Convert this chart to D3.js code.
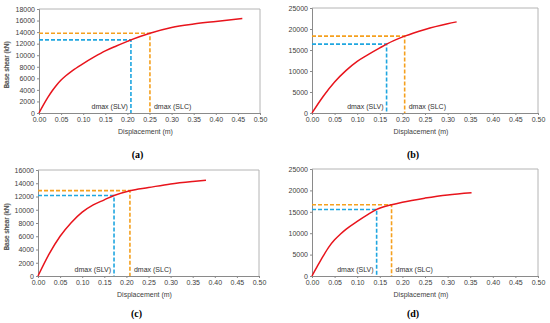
<!DOCTYPE html>
<html lang="en">
<head>
<meta charset="utf-8">
<title>Pushover curves</title>
<script src="https://d3js.org/d3.v7.min.js"></script>
<style>
  body { margin: 0; background: #fff; }
  text { font-family: "Liberation Sans", Arial, sans-serif; }
</style>
</head>
<body>
<script>

// data

const panelNames = ["(a)", "(b)", "(c)", "(d)"];

const curveA = [[0,0],[0.01,1400],[0.02,2700],[0.03,3850],[0.04,4850],[0.05,5700],[0.06,6400],
  [0.075,7300],[0.10,8550],[0.125,9700],[0.15,10750],[0.175,11600],[0.20,12400],[0.208,12650],
  [0.251,13800],[0.30,14800],[0.35,15400],[0.40,15850],[0.46,16350]];
const curveB = [[0,0],[0.025,4000],[0.05,7400],[0.075,10100],[0.10,12300],[0.125,13950],
  [0.15,15500],[0.165,16400],[0.205,18300],[0.25,19900],[0.30,21250],[0.32,21700]];
const curveC = [[0,0],[0.025,3300],[0.05,6000],[0.075,8050],[0.10,9650],[0.125,10750],
  [0.15,11500],[0.172,12150],[0.208,12880],[0.25,13350],[0.30,13900],[0.35,14270],[0.38,14450]];
const curveD = [[0,0],[0.0125,2400],[0.025,4700],[0.0375,6800],[0.05,8450],[0.0625,9750],
  [0.075,10900],[0.10,12750],[0.125,14450],[0.143,15550],[0.176,16650],[0.20,17250],[0.25,18200],
  [0.30,18950],[0.353,19450]];

// [displacement, base shear] at dmax(SLV) and dmax(SLC)
const slvPoints = [[0.208, 12650], [0.165, 16400], [0.172, 12150], [0.143, 15550]];
const slcPoints = [[0.251, 13800], [0.205, 18300], [0.208, 12880], [0.176, 16650]];

const yMaxes = [18000, 25000, 16000, 25000];
const ySteps = [2000, 5000, 2000, 5000];
const xTickValues = [0, 0.05, 0.10, 0.15, 0.20, 0.25, 0.30, 0.35, 0.40, 0.45, 0.50];

const curves = [curveA, curveB, curveC, curveD];

// plot boxes (pixels)
const boxes = [
  {x: 39, y: 9, w: 221, h: 104, cap: 155},
  {x: 312, y: 8, w: 226, h: 105, cap: 155},
  {x: 38, y: 170, w: 221, h: 106, cap: 314},
  {x: 312, y: 169, w: 226, h: 107, cap: 314}
];

const red = "#e8141c", blue = "#1fa6e0", orange = "#f5a01e";

const svg = d3.select("body").append("svg")
    .attr("width", 550)
    .attr("height", 323);

panelNames.forEach((name, i) => {
  const b = boxes[i];
  const x = d3.scaleLinear().domain([0, 0.5]).range([0, b.w]);
  const y = d3.scaleLinear().domain([0, yMaxes[i]]).range([b.h, 0]);
  const g = svg.append("g").attr("transform", `translate(${b.x},${b.y})`);

  // frame top / right
  g.append("path")
      .attr("d", `M0,0H${b.w}V${b.h}`)
      .attr("fill", "none")
      .attr("stroke", "#b4b4b4")
      .attr("stroke-width", 1);

  const yt = d3.range(0, yMaxes[i] + 1, ySteps[i]);

  const xAxis = g.append("g")
      .attr("transform", `translate(0,${b.h})`)
      .call(d3.axisBottom(x).tickValues(xTickValues).tickFormat(d3.format(".2f")).tickSize(2).tickPadding(2));
  const yAxis = g.append("g")
      .call(d3.axisLeft(y).tickValues(yt).tickFormat(d3.format("d")).tickSize(2).tickPadding(2));

  [xAxis, yAxis].forEach(a => {
    a.selectAll("path, line").attr("stroke", "#8a8a8a");
    a.selectAll("text")
        .attr("fill", "#404040")
        .style("font-size", "7px")
        .style("font-family", "Liberation Sans, Arial, sans-serif");
  });

  // axis titles
  g.append("text")
      .attr("x", b.w / 2 - 4)
      .attr("y", b.h + 21)
      .attr("text-anchor", "middle")
      .attr("fill", "#404040")
      .style("font-size", "7px")
      .text("Displacement (m)");

  g.append("text")
      .attr("transform", `translate(${-b.x + 9},${b.h / 2 + 4}) rotate(-90)`)
      .attr("text-anchor", "middle")
      .attr("fill", "#555")
      .style("font-size", "6.5px")
      .text("Base shear (kN)");

  // dashed markers
  const marks = [[slvPoints[i], blue], [slcPoints[i], orange]];
  marks.forEach(([p, c]) => {
    g.append("path")
        .attr("d", `M${x(0)},${y(p[1])}H${x(p[0])}V${y(0)}`)
        .attr("fill", "none")
        .attr("stroke", c)
        .attr("stroke-width", 1.6)
        .attr("stroke-dasharray", "4,2");
  });

  // capacity curve
  g.append("path")
      .datum(curves[i])
      .attr("d", d3.line().x(d => x(d[0])).y(d => y(d[1])).curve(d3.curveMonotoneX))
      .attr("fill", "none")
      .attr("stroke", red)
      .attr("stroke-width", 1.5);

  g.append("text")
      .attr("x", x(slvPoints[i][0]) - 3)
      .attr("y", b.h - 4)
      .attr("text-anchor", "end")
      .attr("fill", "#303030")
      .style("font-size", "7px")
      .text("dmax (SLV)");

  g.append("text")
      .attr("x", x(slcPoints[i][0]) + 4)
      .attr("y", b.h - 4)
      .attr("fill", "#303030")
      .style("font-size", "7px")
      .text("dmax (SLC)");

  // sub-figure caption
  svg.append("text")
      .attr("x", b.x + b.w / 2 - 12)
      .attr("y", b.cap + 3)
      .attr("text-anchor", "middle")
      .attr("fill", "#000")
      .style("font-family", "Liberation Serif, serif")
      .style("font-size", "10px")
      .style("font-weight", "bold")
      .text(name);
});

</script>
</body>
</html>
